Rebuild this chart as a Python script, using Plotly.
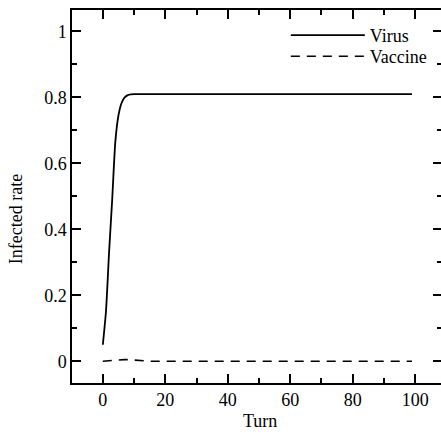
import plotly.graph_objects as go

turns = [0, 1, 2, 3, 4, 5, 6, 7, 8, 9, 10, 11, 12, 13, 14, 15, 20, 30, 40, 50, 60, 70, 80, 90, 99]
virus = [0.05, 0.15, 0.33, 0.49, 0.665, 0.745, 0.783, 0.80, 0.807, 0.809, 0.81, 0.81, 0.81,
         0.81, 0.81, 0.81, 0.81, 0.81, 0.81, 0.81, 0.81, 0.81, 0.81, 0.81, 0.81]
vaccine = [0.0, 0.001, 0.002, 0.003, 0.003, 0.004, 0.004, 0.005, 0.005, 0.004, 0.003, 0.002,
           0.001, 0.0005, 0.0, 0.0, 0.0, 0.0, 0.0, 0.0, 0.0, 0.0, 0.0, 0.0, 0.0]

x_ticks = [0, 20, 40, 60, 80, 100]
y_ticks = [0, 0.2, 0.4, 0.6, 0.8, 1]
y_tick_text = ["0", "0.2", "0.4", "0.6", "0.8", "1"]

FONT = "Liberation Serif"
W, H = 446, 433
ML, MR, MT, MB = 72, 2, 10, 50

fig = go.Figure()
fig.add_trace(go.Scatter(x=turns, y=virus, mode="lines", name="Virus", legend="legend",
                         line=dict(color="black", width=1.8, shape="spline", smoothing=0.6)))
fig.add_trace(go.Scatter(x=turns, y=vaccine, mode="lines", name="Vaccine", legend="legend2",
                         line=dict(color="black", width=1.6, dash="9px,7px")))

axis_common = dict(showline=True, linecolor="black", linewidth=1.5, mirror="ticks",
                   ticks="inside", ticklen=9, tickwidth=1.5, tickcolor="black",
                   showgrid=False, zeroline=False,
                   tickfont=dict(family=FONT, size=18, color="black"))

fig.update_xaxes(range=[-9.87, 108.6], tickvals=x_ticks,
                 minor=dict(ticks="inside", ticklen=5, dtick=10, tick0=0, tickwidth=1.5, tickcolor="black", showgrid=False),
                 **axis_common)
fig.update_yaxes(range=[-0.066, 1.065], tickvals=y_ticks, ticktext=y_tick_text,
                 minor=dict(ticks="inside", ticklen=5, dtick=0.1, tick0=0, tickwidth=1.5, tickcolor="black", showgrid=False),
                 **axis_common)

pw = W - ML - MR
ph = H - MT - MB
fig.add_annotation(text="Infected rate", xref="paper", yref="paper",
                   x=(16 - ML) / pw, y=(H - MB - 219) / ph, xanchor="center", yanchor="middle",
                   textangle=-90, showarrow=False, font=dict(family=FONT, size=18, color="black"))
fig.add_annotation(text="Turn", xref="paper", yref="paper",
                   x=(261 - ML) / pw, y=(H - MB - 421) / ph, xanchor="center", yanchor="middle",
                   showarrow=False, font=dict(family=FONT, size=18, color="black"))

legend_common = dict(xanchor="left", yanchor="top", bgcolor="rgba(0,0,0,0)", borderwidth=0,
                     itemwidth=74, font=dict(family=FONT, size=18, color="black"))

fig.update_layout(
    width=W, height=H,
    margin=dict(l=ML, r=MR, t=MT, b=MB, pad=0),
    paper_bgcolor="white", plot_bgcolor="white",
    font=dict(family=FONT, size=18, color="black"),
    showlegend=True,
    legend=dict(x=(287 - ML) / pw, y=(H - MB - 17) / ph, **legend_common),
    legend2=dict(x=(287 - ML) / pw, y=(H - MB - 38) / ph, **legend_common),
)

fig.write_html("out.html",
               post_script="document.documentElement.style.overflow='hidden';document.body.style.overflow='hidden';")
